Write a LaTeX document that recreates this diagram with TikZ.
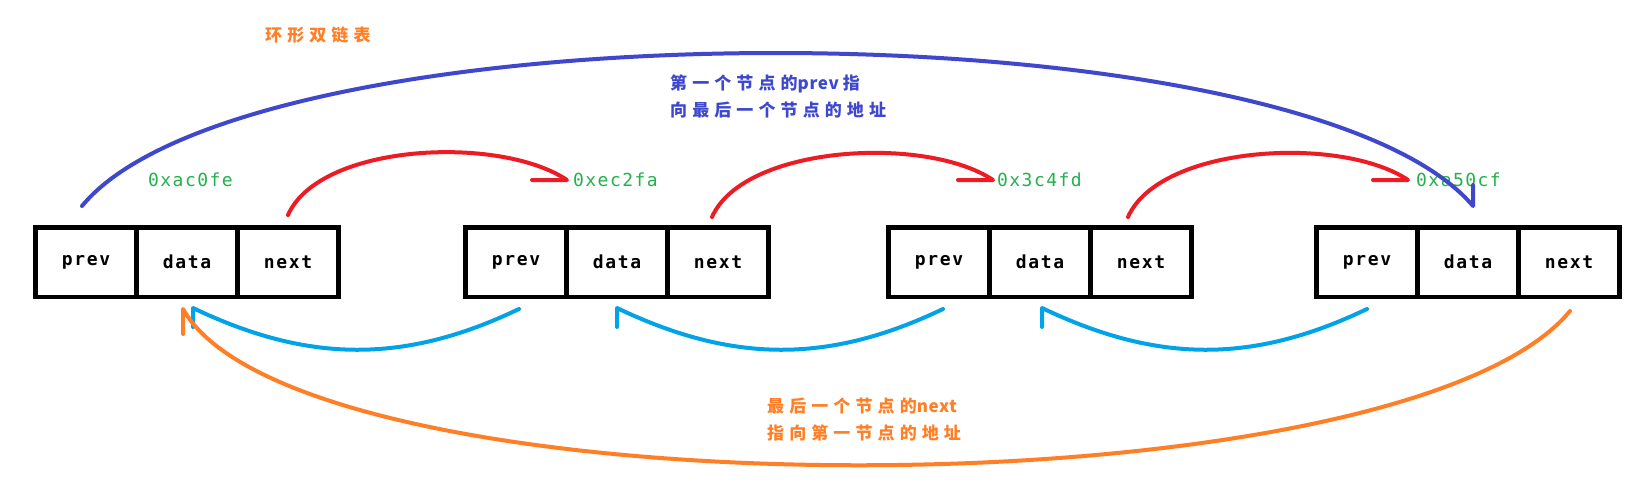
\documentclass[tikz,border=0pt]{standalone}
\usepackage{fontspec}
\usetikzlibrary{calc}
\newfontfamily\cellfont[LetterSpace=9]{DejaVu Sans Mono}
\newfontfamily\addrfont[LetterSpace=8]{DejaVu Sans Mono}
\newfontfamily\cjk[LetterSpace=30]{Noto Sans CJK SC}
\newfontfamily\cjklat[LetterSpace=4]{Noto Sans CJK SC}
\newcommand{\latw}[1]{{\cjklat\bfseries #1}\hspace{4pt}}
\definecolor{pRed}{RGB}{237,28,36}
\definecolor{pBlue}{RGB}{63,72,204}
\definecolor{pCyan}{RGB}{0,162,232}
\definecolor{pOrange}{RGB}{255,127,39}
\definecolor{pGreen}{RGB}{34,177,76}
\begin{document}
\begin{tikzpicture}[x=1pt,y=-1pt,
  cell/.style={draw=black, line width=4.5pt, minimum width=101pt, minimum height=69.5pt, inner sep=0pt,
    font=\cellfont\bfseries\fontsize{18}{20}\selectfont},
  addr/.style={anchor=west, inner sep=0pt, text=pGreen, font=\addrfont\fontsize{18}{20}\selectfont},
  note/.style={anchor=west, inner sep=0pt, align=left, font=\cjk\bfseries\fontsize{17}{27}\selectfont},
  link/.style={line width=4pt, line cap=round, line join=round},
]
\useasboundingbox[fill=white] (0,0) rectangle (1651,483);

% nodes (boxes)
\foreach \i/\L in {1/35.5, 2/465.5, 3/888.5, 4/1316.5} {
  \node[cell] (p\i) at (\L+50.5, 262) {prev};
  \node[cell] (d\i) at (\L+151.5, 262) {data};
  \node[cell] (n\i) at (\L+252.5, 262) {next};
}

% addresses
\node[addr] (a1) at (148,180) {0xac0fe};
\node[addr] (a2) at (573,180) {0xec2fa};
\node[addr] (a3) at (997,180) {0x3c4fd};
\node[addr] (a4) at (1416,180) {0xa50cf};

% texts
\node[note, text=pOrange] (title) at (265,35) {环形双链表};
\node[note, text=pBlue] (tprev) at (670,96.5) {第一个节点的\latw{prev}指\\向最后一个节点的地址};
\node[note, text=pOrange] (tnext) at (767,420) {最后一个节点的\latw{next}\\指向第一节点的地址};

% next links (red)
\draw[link, pRed] ($(n1.north)+(0,-10)$) .. controls +(32,-72) and +(-67,-45) .. ($(a2.west)+(-6,0)$) -- +(-35,0);
\draw[link, pRed] ($(n2.north)+(-6,-8)$) .. controls +(32,-72) and +(-67,-45) .. ($(a3.west)+(-4,0)$) -- +(-35,0);
\draw[link, pRed] ($(n3.north)+(-13,-8)$) .. controls +(32,-72) and +(-67,-45) .. ($(a4.west)+(-8,0)$) -- +(-35,0);

% prev links (cyan)
\draw[link, pCyan] ($(p2.south)+(3,10)$) .. controls +(-115,55) and +(115,55) .. ($(d1.south)+(6,9)$) -- +(0,19);
\draw[link, pCyan] ($(p3.south)+(4,10)$) .. controls +(-115,55) and +(115,55) .. ($(d2.south)+(0,9)$) -- +(0,19);
\draw[link, pCyan] ($(p4.south)+(0,10)$) .. controls +(-115,55) and +(115,55) .. ($(d3.south)+(2,9)$) -- +(0,19);

% circular links
\draw[link, pBlue] ($(p1.north)+(-4,-19)$) .. controls +(168,-204) and +(-173,-204) .. ($(d4.north)+(5,-19)$) -- +(0,-21);
\draw[link, pOrange] ($(n4.south)+(1,12)$) .. controls +(-170,206) and +(117,208) .. ($(d1.south)+(-4,10)$) -- +(0,25);
\end{tikzpicture}
\end{document}
